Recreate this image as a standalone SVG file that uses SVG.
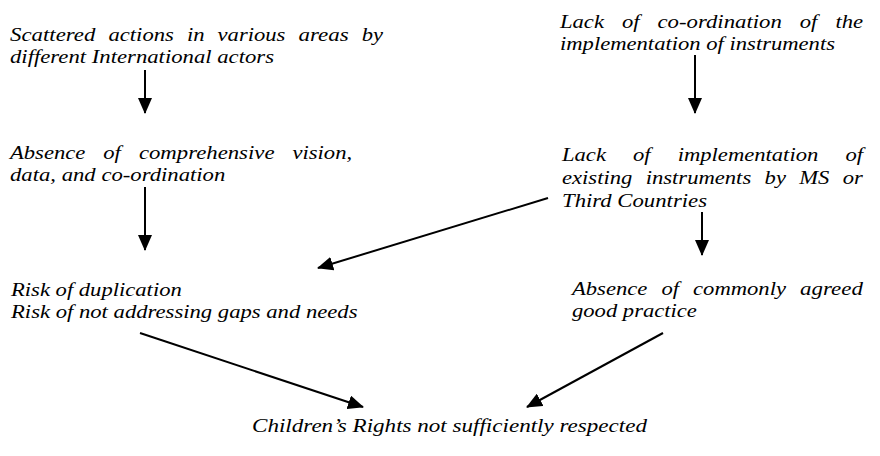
<svg xmlns="http://www.w3.org/2000/svg" width="880" height="456" viewBox="0 0 880 456">
<style>
text{font-family:"Liberation Serif",serif;font-style:italic;font-size:19.5px;fill:#000}
.c{stroke:#000;stroke-width:2;fill:none;marker-end:url(#ah)}
</style>
<defs>
<marker id="ah" markerUnits="userSpaceOnUse" markerWidth="16" markerHeight="14" refX="15" refY="7" orient="auto">
<path d="M0,0 L16,7 L0,14 z" fill="#000"/>
</marker>
</defs>
<rect width="880" height="456" fill="#fff"/>
<g id="n1">
<text x="10" y="41" textLength="85.4" lengthAdjust="spacingAndGlyphs">Scattered</text>
<text x="108.5" y="41" textLength="65.3" lengthAdjust="spacingAndGlyphs">actions</text>
<text x="186.9" y="41" textLength="17.6" lengthAdjust="spacingAndGlyphs">in</text>
<text x="217.6" y="41" textLength="67.8" lengthAdjust="spacingAndGlyphs">various</text>
<text x="298.5" y="41" textLength="50.2" lengthAdjust="spacingAndGlyphs">areas</text>
<text x="361.8" y="41" textLength="21.3" lengthAdjust="spacingAndGlyphs">by</text>
<text x="10" y="63" textLength="264" lengthAdjust="spacingAndGlyphs">different International actors</text>
</g>
<g id="n2">
<text x="560" y="28" textLength="43.9" lengthAdjust="spacingAndGlyphs">Lack</text>
<text x="621.9" y="28" textLength="17.6" lengthAdjust="spacingAndGlyphs">of</text>
<text x="657.5" y="28" textLength="124.3" lengthAdjust="spacingAndGlyphs">co-ordination</text>
<text x="799.8" y="28" textLength="17.6" lengthAdjust="spacingAndGlyphs">of</text>
<text x="835.4" y="28" textLength="27.6" lengthAdjust="spacingAndGlyphs">the</text>
<text x="560" y="50" textLength="275" lengthAdjust="spacingAndGlyphs">implementation of instruments</text>
</g>
<g id="n3">
<text x="10" y="159" textLength="75.3" lengthAdjust="spacingAndGlyphs">Absence</text>
<text x="103.3" y="159" textLength="17.6" lengthAdjust="spacingAndGlyphs">of</text>
<text x="138.9" y="159" textLength="135.6" lengthAdjust="spacingAndGlyphs">comprehensive</text>
<text x="292.5" y="159" textLength="59.6" lengthAdjust="spacingAndGlyphs">vision,</text>
<text x="10" y="181" textLength="215.3" lengthAdjust="spacingAndGlyphs">data, and co-ordination</text>
</g>
<g id="n4">
<text x="562" y="161" textLength="43.9" lengthAdjust="spacingAndGlyphs">Lack</text>
<text x="633" y="161" textLength="17.6" lengthAdjust="spacingAndGlyphs">of</text>
<text x="677.7" y="161" textLength="140.6" lengthAdjust="spacingAndGlyphs">implementation</text>
<text x="845.4" y="161" textLength="17.6" lengthAdjust="spacingAndGlyphs">of</text>
<text x="562" y="184" textLength="70.3" lengthAdjust="spacingAndGlyphs">existing</text>
<text x="645.7" y="184" textLength="105.5" lengthAdjust="spacingAndGlyphs">instruments</text>
<text x="764.6" y="184" textLength="21.3" lengthAdjust="spacingAndGlyphs">by</text>
<text x="799.3" y="184" textLength="30.1" lengthAdjust="spacingAndGlyphs">MS</text>
<text x="842.8" y="184" textLength="20.1" lengthAdjust="spacingAndGlyphs">or</text>
<text x="562" y="207" textLength="145" lengthAdjust="spacingAndGlyphs">Third Countries</text>
</g>
<g id="n5">
<text x="11" y="296" textLength="170.8" lengthAdjust="spacingAndGlyphs">Risk of duplication</text>
<text x="11" y="318" textLength="346.5" lengthAdjust="spacingAndGlyphs">Risk of not addressing gaps and needs</text>
</g>
<g id="n6">
<text x="572" y="295" textLength="75.3" lengthAdjust="spacingAndGlyphs">Absence</text>
<text x="661.4" y="295" textLength="17.6" lengthAdjust="spacingAndGlyphs">of</text>
<text x="693.1" y="295" textLength="92.9" lengthAdjust="spacingAndGlyphs">commonly</text>
<text x="800.1" y="295" textLength="62.8" lengthAdjust="spacingAndGlyphs">agreed</text>
<text x="572" y="317" textLength="124.9" lengthAdjust="spacingAndGlyphs">good practice</text>
</g>
<g id="n7">
<text x="252" y="432" textLength="395" lengthAdjust="spacingAndGlyphs">Children’s Rights not sufficiently respected</text>
</g>
<g id="connectors">
<line class="c" x1="145" y1="70" x2="145" y2="113"/>
<line class="c" x1="695" y1="55" x2="695" y2="113"/>
<line class="c" x1="145" y1="187" x2="145" y2="250"/>
<line class="c" x1="702" y1="212" x2="702" y2="255"/>
<line class="c" x1="548" y1="198" x2="318" y2="268"/>
<line class="c" x1="140" y1="333" x2="363" y2="407"/>
<line class="c" x1="663" y1="333" x2="527" y2="407"/>
</g>
</svg>
